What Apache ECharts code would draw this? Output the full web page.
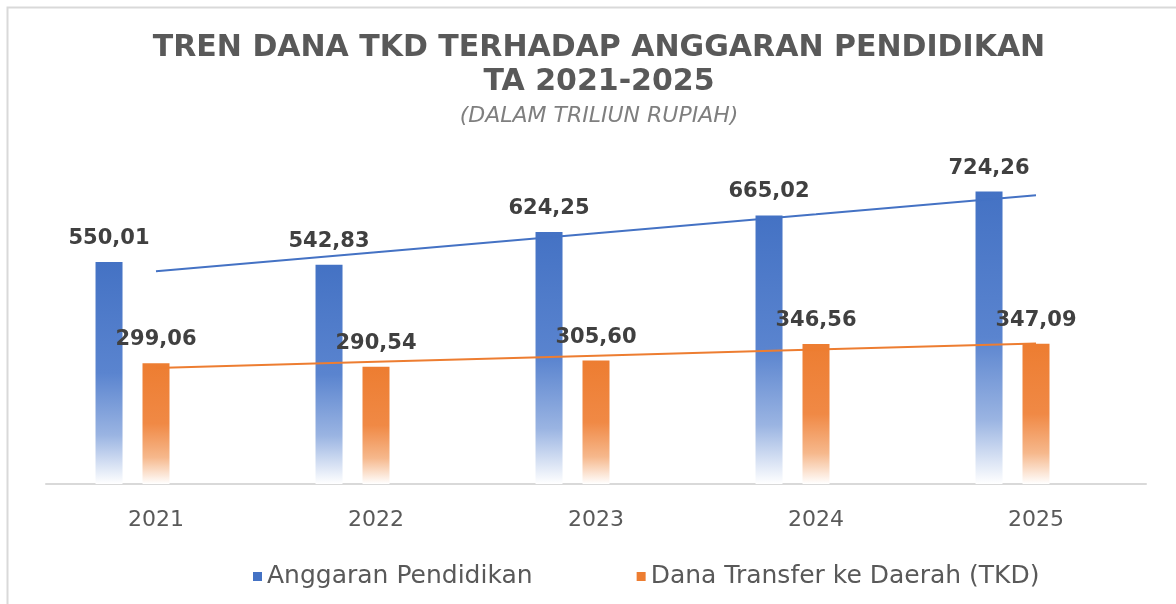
<!DOCTYPE html>
<html>
<head>
<meta charset="utf-8">
<script src="https://cdn.jsdelivr.net/npm/echarts@6/dist/echarts.min.js"></script>
<style>
  html, body { margin: 0; padding: 0; background: #fff; }
  #main { width: 1176px; height: 604px; }
</style>
</head>
<body>
<div id="main"></div>
<script>
  // data (triliun rupiah)
  var years = ['2021', '2022', '2023', '2024', '2025']
  var anggaranPendidikan = [550.01, 542.83, 624.25, 665.02, 724.26]
  var danaTKD = [299.06, 290.54, 305.60, 346.56, 347.09]
  // linear trend lines as they appear in the picture
  var trendPendidikan = [527.1, 574.2, 621.3, 668.3, 715.4]
  var trendTKD = [287.4, 302.6, 317.8, 333.0, 348.2]

  var myChart = echarts.init(document.getElementById('main'))

  function fmt(p) {
    return p.value.toFixed(2).replace('.', ',')
  }

  function fade(c0, c1, c2) {
    return new echarts.graphic.LinearGradient(0, 0, 0, 1, [
      { offset: 0, color: c0 },
      { offset: 0.5, color: c1 },
      { offset: 0.78, color: c2 },
      { offset: 1, color: '#ffffff' },
    ])
  }

  var labelStyle = {
    show: true,
    position: 'top',
    distance: 13,
    formatter: fmt,
    color: '#404040',
    fontFamily: 'DejaVu Sans',
    fontWeight: 'bold',
    fontSize: 21,
  }

  var option = {
    backgroundColor: '#fff',
    animation: false,
    title: {
      text: 'TREN DANA TKD TERHADAP ANGGARAN PENDIDIKAN\nTA 2021-2025',
      subtext: '(DALAM TRILIUN RUPIAH)',
      left: 594,
      top: 26,
      textAlign: 'center',
      itemGap: 4,
      textStyle: {
        color: '#595959',
        fontFamily: 'DejaVu Sans',
        fontWeight: 'bold',
        fontSize: 30,
        lineHeight: 34,
      },
      subtextStyle: {
        color: '#7f7f7f',
        fontFamily: 'DejaVu Sans',
        fontStyle: 'italic',
        fontSize: 22,
        lineHeight: 26,
      },
    },
    legend: {
      data: [
        { name: 'Anggaran Pendidikan', itemStyle: { color: '#4472c4' } },
        { name: 'Dana Transfer ke Daerah (TKD)', itemStyle: { color: '#ed7d31' } },
      ],
      left: 248,
      top: 559,
      itemWidth: 9,
      itemHeight: 9,
      itemGap: 104,
      icon: 'rect',
      textStyle: {
        color: '#595959',
        fontFamily: 'DejaVu Sans',
        fontSize: 25,
      },
    },
    grid: {
      left: 46,
      right: 30,
      top: 161,
      bottom: 120,
    },
    xAxis: {
      type: 'category',
      data: years,
      axisLine: { lineStyle: { color: '#d9d9d9', width: 2 } },
      axisTick: { show: false },
      axisLabel: {
        color: '#595959',
        fontFamily: 'DejaVu Sans',
        fontSize: 22,
        margin: 25,
      },
    },
    yAxis: {
      type: 'value',
      min: 0,
      max: 800,
      show: false,
      splitLine: { show: false },
    },
    series: [
      {
        name: 'Anggaran Pendidikan',
        type: 'bar',
        barWidth: 27,
        barGap: '74%',
        data: anggaranPendidikan,
        itemStyle: { color: fade('#4472c4', '#5a84cf', '#9ab4e2') },
        label: labelStyle,
      },
      {
        name: 'Dana Transfer ke Daerah (TKD)',
        type: 'bar',
        barWidth: 27,
        barGap: '74%',
        data: danaTKD,
        itemStyle: { color: fade('#ed7d31', '#f08945', '#f6b88c') },
        label: labelStyle,
      },
      {
        // empty third slot, keeps the bars left of the category centre
        name: 'slot',
        type: 'bar',
        barWidth: 27,
        barGap: '74%',
        data: [],
      },
      {
        name: 'trend pendidikan',
        type: 'line',
        data: trendPendidikan,
        symbol: 'none',
        lineStyle: { color: '#4472c4', width: 2 },
        z: 5,
      },
      {
        name: 'trend tkd',
        type: 'line',
        data: trendTKD,
        symbol: 'none',
        lineStyle: { color: '#ed7d31', width: 2 },
        z: 5,
      },
    ],
    graphic: [
      {
        type: 'rect',
        left: 5,
        top: 5,
        shape: { width: 1190, height: 620 },
        style: { fill: null, stroke: '#d9d9d9', lineWidth: 2 },
        silent: true,
      },
    ],
  }

  myChart.setOption(option)
  window.addEventListener('resize', function () {
    myChart.resize()
  })
</script>
</body>
</html>
